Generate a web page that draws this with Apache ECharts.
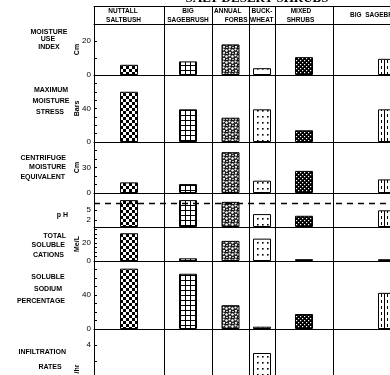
<!DOCTYPE html>
<html>
<head>
<meta charset="utf-8">
<script src="https://cdn.jsdelivr.net/npm/echarts@6/dist/echarts.min.js"></script>
<style>html,body{margin:0;background:#fff}#chart{width:390px;height:375px}</style>
</head>
<body>
<div id="chart"></div>
<script>
// columns (soil/vegetation types) and their relative widths in the figure
const species = ['NUTTALL SALTBUSH', 'BIG SAGEBRUSH', 'ANNUAL FORBS', 'BUCKWHEAT', 'MIXED SHRUBS', 'BIG SAGEBRUSH'];
const colWidths = [70, 48, 37, 26, 58, 108];

// values per row
const moistureUse = [6, 8, 18, 4, 10.5, 9.5];
const maxStress = [60, 39, 29, 39, 14, 39];
const centrifuge = [12.5, 10.5, 48, 14.5, 26, 16];
const pH = [7.9, 7.9, 7.4, 3.8, 3.3, 4.9];
const cations = [31, 3, 22.5, 25, 2, 2];
const sodium = [71, 65, 28, 2.7, 17.6, 42.5];
const infiltration = [null, null, null, 3.5, null, null];
const phNeutral = 7;

// labelled ticks
const useTicks = [0, 20];
const stressTicks = [0, 40];
const centTicks = [0, 30];
const phTicks = [0, 2, 5, 7];
const cationTicks = [0, 20];
const sodiumTicks = [0, 40];
const infilTicks = [4];

const SANS = 'Liberation Sans';
const left = 94;
const span = colWidths.reduce((a, b) => a + b, 0);
const edges = colWidths.reduce((acc, w) => { acc.push(acc[acc.length - 1] + w); return acc; }, [0]);
const centers = colWidths.map((w, i) => edges[i] + w / 2);
const rightGap = 390 - left - span;

function tile(w, h, draw) {
  const c = document.createElement('canvas');
  c.width = w; c.height = h;
  const g = c.getContext('2d');
  g.fillStyle = '#fff'; g.fillRect(0, 0, w, h);
  g.fillStyle = '#000';
  draw(g);
  return { image: c, repeat: 'repeat' };
}
function dot(g, x, y, r) { g.beginPath(); g.arc(x, y, r, 0, Math.PI * 2); g.fill(); }

const fills = [
  tile(6, 6, g => { g.fillRect(0, 0, 3, 3); g.fillRect(3, 3, 3, 3); }),
  tile(5, 5, g => { g.fillRect(0, 0, 5, 1); g.fillRect(0, 0, 1, 5); }),
  tile(6, 6, g => { g.fillStyle = '#1a1a1a'; g.fillRect(0, 0, 6, 6); g.fillStyle = '#fff';
    dot(g, 1.5, 1.5, 1.1); dot(g, 4.5, 2.5, 1.2); dot(g, 2, 4.8, 1.1); dot(g, 5, 5.5, 0.8); }),
  tile(5, 6, g => { g.fillRect(2, 2, 1.6, 1.6); }),
  tile(4, 4, g => { g.fillRect(0, 0, 4, 4); g.fillStyle = '#fff'; g.fillRect(0, 0, 1.2, 1.2); g.fillRect(2, 2, 1.2, 1.2); }),
  tile(6, 6, g => { g.fillRect(0, 0, 1, 6); g.fillRect(3, 0, 1, 3); })
];

const panels = [
  { unit: 'Cm', values: moistureUse, max: 30, interval: 10, labels: useTicks, top: 24, height: 51 },
  { unit: 'Bars', values: maxStress, max: 80, interval: 10, labels: stressTicks, top: 75, height: 67 },
  { unit: 'Cm', values: centrifuge, max: 60, interval: 10, labels: centTicks, top: 142, height: 51 },
  { unit: '', values: pH, max: 10, interval: 1, labels: phTicks, ticks: phTicks, top: 193, height: 34, ref: phNeutral },
  { unit: 'Me/L', values: cations, max: 38, interval: 5, labels: cationTicks, top: 227, height: 34 },
  { unit: '', values: sodium, max: 80, interval: 10, labels: sodiumTicks, top: 261, height: 68 },
  { unit: '/hr', values: infiltration, max: 5, interval: 1, labels: infilTicks, top: 329, height: 80 }
];

const rowLabels = [
  ['MOISTURE', 49, 32, 'center'], ['USE', 48, 39.5, 'center'], ['INDEX', 49, 47, 'center'],
  ['MAXIMUM', 51, 90, 'center'], ['MOISTURE', 51, 101, 'center'], ['STRESS', 50, 112, 'center'],
  ['CENTRIFUGE', 66, 158, 'right'], ['MOISTURE', 66, 167, 'right'], ['EQUIVALENT', 65, 177, 'right'],
  ['p H', 68, 215, 'right'],
  ['TOTAL', 66, 236, 'right'], ['SOLUBLE', 65, 245, 'right'], ['CATIONS', 64, 255, 'right'],
  ['SOLUBLE', 48, 277, 'center'], ['SODIUM', 48, 289, 'center'], ['PERCENTAGE', 65, 301, 'right'],
  ['INFILTRATION', 66, 352, 'right'], ['RATES', 50, 367, 'center']
];

const headerLabels = [
  ['NUTTALL', 123, 11.5, 'center'], ['SALTBUSH', 123.5, 20, 'center'],
  ['BIG', 188, 11.5, 'center'], ['SAGEBRUSH', 188, 20, 'center'],
  ['ANNUAL', 214, 11.5, 'left'], ['FORBS', 247.5, 20.5, 'right'],
  ['BUCK-', 251.5, 11.5, 'left'], ['WHEAT', 250, 20.5, 'left'],
  ['MIXED', 301, 11.5, 'center'], ['SHRUBS', 300.5, 20.5, 'center'],
  ['BIG  SAGEBRUSH', 350, 15.5, 'left']
];

const chart = echarts.init(document.getElementById('chart'));

const gridBase = { left, right: rightGap, outerBoundsMode: 'none', containLabel: false };
const grid = [{ ...gridBase, top: 6, height: 18 }];
const xAxis = [
  { gridIndex: 0, type: 'value', min: 0, max: span, position: 'bottom', axisLine: { lineStyle: { color: '#000' } }, axisTick: { show: false }, axisLabel: { show: false }, splitLine: { show: false } },
  { gridIndex: 0, type: 'value', min: 0, max: span, position: 'top', axisLine: { lineStyle: { color: '#000' } }, axisTick: { show: false }, axisLabel: { show: false }, splitLine: { show: false } }
];
const yAxis = [{ gridIndex: 0, type: 'value', show: false }];
const series = [];

panels.forEach((p, k) => {
  const gi = k + 1;
  grid.push({ ...gridBase, top: p.top, height: p.height });
  xAxis.push({ gridIndex: gi, type: 'value', min: 0, max: span,
    axisLine: { onZero: false, lineStyle: { color: '#000' } }, axisTick: { show: false }, axisLabel: { show: false }, splitLine: { show: false } });
  yAxis.push({ gridIndex: gi, type: 'value', min: 0, max: p.max, interval: p.interval,
    name: p.unit, nameLocation: 'middle', nameRotate: 90, nameGap: 13, nameMoveOverlap: false,
    nameTextStyle: { fontFamily: SANS, fontSize: 7, fontWeight: 'bold', color: '#000' },
    axisLine: { show: true, lineStyle: { color: '#000' } },
    axisTick: { show: true, inside: true, length: 3, lineStyle: { color: '#000' }, customValues: p.ticks },
    axisLabel: { customValues: p.labels, fontFamily: SANS, fontSize: 8, color: '#000', margin: 3 },
    splitLine: { show: false } });
  series.push({
    type: 'bar', xAxisIndex: gi + 1, yAxisIndex: gi, barWidth: 18, silent: true,
    itemStyle: { borderColor: '#000', borderWidth: 1 },
    data: p.values.map((v, i) => ({ value: [centers[i], v], name: species[i], itemStyle: { color: fills[i] } })),
    markLine: p.ref == null ? undefined : {
      silent: true, symbol: ['none', 'none'], label: { show: false },
      lineStyle: { color: '#000', width: 1.3, type: [6, 5] },
      data: [{ yAxis: p.ref }]
    }
  });
});

// overlay for the column dividers
const og = grid.length;
grid.push({ ...gridBase, top: 6, bottom: -40 });
xAxis.push({ gridIndex: og, type: 'value', min: 0, max: span, show: false });
yAxis.push({ gridIndex: og, type: 'value', min: 0, max: 1, show: false });
series.push({
  type: 'line', xAxisIndex: xAxis.length - 1, yAxisIndex: yAxis.length - 1, showSymbol: false, silent: true,
  data: [[0, -1]],
  markLine: {
    silent: true, symbol: ['none', 'none'], label: { show: false },
    lineStyle: { color: '#000', width: 1, type: 'solid' },
    data: edges.map(e => ({ xAxis: e }))
  }
});

const text = (t, x, y, align, font) => ({
  type: 'text', x, y, silent: true,
  style: { text: t, textAlign: align, textVerticalAlign: 'middle', fill: '#000', font }
});

chart.setOption({
  animation: false,
  grid, xAxis, yAxis, series,
  graphic: [
    { type: 'text', x: 257, y: 5.5, silent: true,
      style: { text: 'SALT DESERT SHRUBS', textAlign: 'center', textVerticalAlign: 'bottom', fill: '#000', font: 'bold 13px "Liberation Serif"' } },
    ...headerLabels.map(l => text(l[0], l[1], l[2], l[3], 'bold 6.5px "' + SANS + '"')),
    ...rowLabels.map(l => text(l[0], l[1], l[2], l[3], 'bold 7px "' + SANS + '"'))
  ]
});
</script>
</body>
</html>
